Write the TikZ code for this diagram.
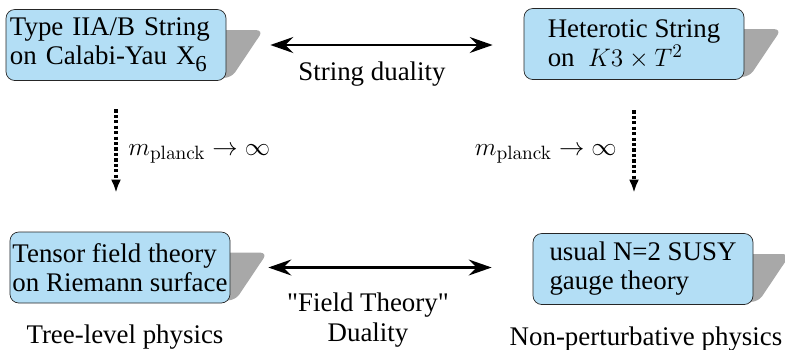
\documentclass[tikz,border=0pt]{standalone}
\usepackage[no-math]{fontspec}
\setmainfont{Liberation Serif}
\newfontfamily\straightrm{Liberation Serif}[Ligatures=TeXOff]
\usetikzlibrary{positioning,backgrounds,arrows.meta,calc}
\definecolor{boxblue}{HTML}{B3DEF5}
\definecolor{shadegray}{HTML}{A8A8A8}
\tikzset{
  thb/.style={draw=black!85, fill=boxblue, rounded corners=5pt, align=left,
    inner xsep=1pt, inner ysep=2pt, minimum width=4.4cm, minimum height=1.42cm},
  shd/.style={fill=shadegray, rounded corners=4pt},
  dual/.style={{Stealth[length=4.6mm,width=3.2mm,inset=1.6mm]}-{Stealth[length=4.6mm,width=3.2mm,inset=1.6mm]},
    line width=1.2pt},
  limit/.style={-{Latex[length=2.6mm,width=2mm]}, line width=1.9pt,
    dash pattern=on 1.8pt off 1.3pt},
  lab/.style={inner sep=0pt},
}

\begin{document}
\begin{tikzpicture}[font=\rmfamily\fontsize{15.3}{16.5}\selectfont]
  \useasboundingbox (0,0) rectangle (15.7,-6.98);
  % the four theories
  \node[thb, text width=4.24cm, inner xsep=0.08cm] (iia) at (2.32,-0.90)
    {Type IIA/B String\\on Calabi-Yau X\raisebox{-0.55ex}{\fontsize{13}{13}\selectfont 6}};
  \node[thb] (het) at (12.68,-0.88) {Heterotic String\\on \ $K3\times T^2$};
  \node[thb] (tens) at (2.40,-5.35) {Tensor field theory\\on Riemann surface};
  \node[thb] (susy) at (12.86,-5.38) {usual N=2 SUSY\\gauge theory};
  % shadows
  \begin{scope}[on background layer]
    \foreach \b in {iia,het,tens,susy} {
      \fill[shd] ($(\b.north east)+(-0.4,-0.42)$) -- ($(\b.north east)+(0.74,-0.42)$)
        -- ($(\b.south east)+(0.1,0.06)$) -- ($(\b.south east)+(-0.4,0.06)$) -- cycle;
    }
  \end{scope}
  % dualities
  \draw[dual, shorten <=0.88cm, shorten >=0.62cm] (iia.east) -- (iia.east -| het.west);
  \node[lab, anchor=base] (sdual) at (7.44,-1.60) {String duality};
  \draw[dual, shorten <=0.76cm, shorten >=0.82cm] (tens.east) -- (tens.east -| susy.west);
  \node[lab, anchor=north, align=center, font=\straightrm\fontsize{15.3}{17}\selectfont] (fdual)
    at (7.36,-5.85) {"Field Theory"\\Duality};
  % limits
  \draw[limit, shorten <=0.57cm, shorten >=0.78cm] (iia.south) -- (iia.south |- tens.north);
  \node[lab, anchor=base west] (mleft) at (2.56,-3.10) {$m_{\mathrm{planck}}\rightarrow\infty$};
  \draw[limit, shorten <=0.61cm, shorten >=0.81cm] (het.south) -- (het.south |- susy.north);
  \node[lab, anchor=base east] (mright) at (12.34,-3.10) {$m_{\mathrm{planck}}\rightarrow\infty$};
  % regimes
  \node[lab, anchor=base] (tree) at (2.50,-6.86) {Tree-level physics};
  \node[lab, anchor=base] (nonp) at (12.92,-6.90) {Non-perturbative physics};
\end{tikzpicture}
\end{document}
